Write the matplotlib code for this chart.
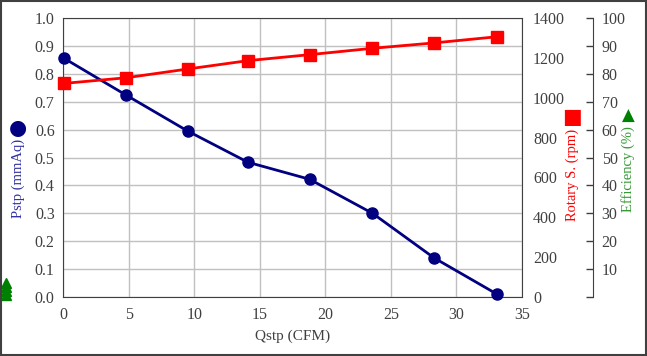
import matplotlib
matplotlib.use("Agg")
import matplotlib.pyplot as plt
import matplotlib.transforms as mtransforms
from matplotlib.patches import Rectangle

# Fan curve data
qstp = [0.1, 4.8, 9.5, 14.1, 18.8, 23.6, 28.3, 33.1]           # CFM
pstp = [0.855, 0.724, 0.595, 0.483, 0.422, 0.300, 0.140, 0.010]  # mmAq
rpm = [1072, 1100, 1144, 1186, 1216, 1248, 1275, 1306]
# efficiency markers piled at the left edge of the original chart
eff = [5.0, 3.6, 2.2, 0.8]

TICK_COLOR = "#404040"
BLUE = "#000080"
RED = "#ff0000"
GREEN = "#008000"

plt.rcParams["font.family"] = ["Liberation Serif", "DejaVu Serif"]
plt.rcParams["font.size"] = 11

fig = plt.figure(figsize=(6.47, 3.56), dpi=100)
ax = fig.add_axes([63 / 647, 59 / 356, 459 / 647, 279 / 356])

ax.plot(qstp, pstp, color=BLUE, lw=2, marker="o", ms=8, zorder=5, clip_on=False)
ax.set_xlim(0, 35)
ax.set_ylim(0, 1.0)
ax.set_xticks(range(0, 36, 5))
ax.set_yticks([i / 10 for i in range(11)])
ax.set_yticklabels([f"{i / 10:.1f}" for i in range(11)])
ax.grid(True, color="#c0c0c0", lw=1)
ax.set_axisbelow(True)
ax.tick_params(length=0, colors=TICK_COLOR, labelsize=11.5)
ax.tick_params(axis="x", pad=7)
ax.tick_params(axis="y", pad=6)
for s in ax.spines.values():
    s.set_color("#404040")
ax.set_xlabel("Qstp (CFM)", color=TICK_COLOR, fontsize=11, labelpad=5)

# rpm axis on the plot's right spine
ax2 = ax.twinx()
ax2.plot(qstp, rpm, color=RED, lw=2, marker="s", ms=8, zorder=5, clip_on=False)
ax2.set_ylim(0, 1400)
ax2.set_yticks(range(0, 1401, 200))
ax2.tick_params(length=0, colors=TICK_COLOR, labelsize=11.5, pad=8)
for s in ax2.spines.values():
    s.set_visible(False)

# efficiency axis further right
ax3 = ax.twinx()
ax3.spines["right"].set_position(("axes", 1.1555))
for k in ["left", "top", "bottom"]:
    ax3.spines[k].set_visible(False)
ax3.spines["right"].set_color("#404040")
ax3.set_ylim(0, 100)
ax3.set_yticks(range(0, 101, 10))
ax3.set_yticklabels([""] + [str(v) for v in range(10, 101, 10)])
ax3.tick_params(direction="in", length=5, width=1, colors="#404040",
                labelsize=11.5, pad=6)
trans = mtransforms.blended_transform_factory(ax3.transAxes, ax3.transData)
ax3.plot([-0.125] * len(eff), eff, ls="none", marker="^", ms=7, color=GREEN,
         transform=trans, clip_on=False)

# axis titles with their legend symbols
fig.text(18 / 647, 1 - 139 / 356, "Pstp (mmAq)", rotation=90, color="#3030a0",
         ha="center", va="top", fontsize=10.5)
fig.text(18 / 647, 1 - 128 / 356, "\u25cf", color=BLUE, ha="center",
         va="center", fontsize=15, family="DejaVu Sans")
fig.text(572 / 647, 1 - 129 / 356, "Rotary S. (rpm)", rotation=90, color=RED,
         ha="center", va="top", fontsize=10.5)
fig.text(572 / 647, 1 - 117 / 356, "\u25a0", color=RED, ha="center",
         va="center", fontsize=15, family="DejaVu Sans")
fig.text(628 / 647, 1 - 126 / 356, "Efficiency (%)", rotation=90, color="#339933",
         ha="center", va="top", fontsize=10.5)
fig.text(628 / 647, 1 - 116 / 356, "\u25b2", color=GREEN, ha="center",
         va="center", fontsize=12, family="DejaVu Sans")

fig.patches.append(Rectangle((0.002, 0.003), 0.996, 0.994, transform=fig.transFigure,
                             fill=False, edgecolor="#404040", lw=1.5))

fig.savefig("out.png", dpi=100)
